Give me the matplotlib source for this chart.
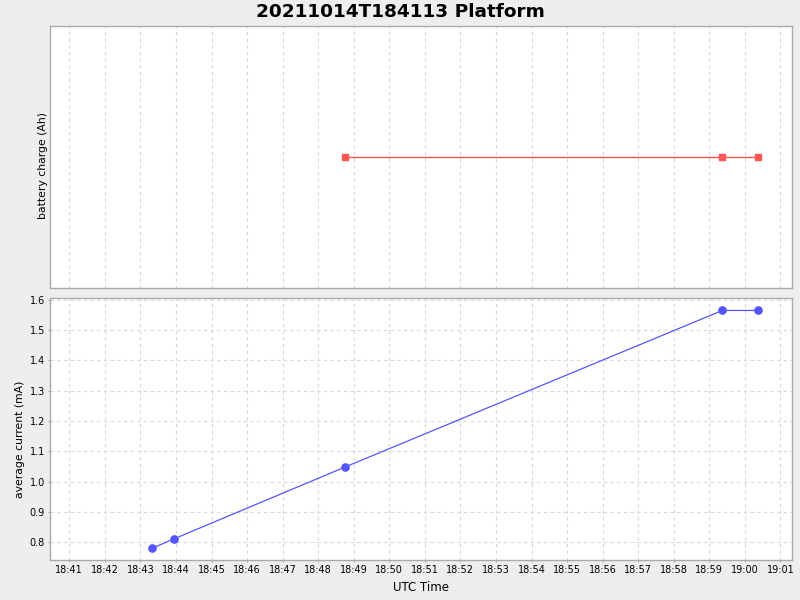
import matplotlib
matplotlib.use("Agg")
import matplotlib.pyplot as plt
import matplotlib.dates as mdates
from datetime import datetime

title = "20211014T184113 Platform"
charge_times = ["2021-10-14 18:48:45", "2021-10-14 18:59:22", "2021-10-14 19:00:22"]
charge_values = [1.0, 1.0, 1.0]
current_times = ["2021-10-14 18:43:19", "2021-10-14 18:43:56", "2021-10-14 18:48:45",
                 "2021-10-14 18:59:22", "2021-10-14 19:00:22"]
current_values = [0.780, 0.811, 1.048, 1.564, 1.564]
current_ticks = [0.8, 0.9, 1.0, 1.1, 1.2, 1.3, 1.4, 1.5, 1.6]

fmt = "%Y-%m-%d %H:%M:%S"
ct = [datetime.strptime(s, fmt) for s in charge_times]
it = [datetime.strptime(s, fmt) for s in current_times]
xmin = datetime.strptime("2021-10-14 18:40:28", fmt)
xmax = datetime.strptime("2021-10-14 19:01:20", fmt)

bg = "#EEEEEE"
fig = plt.figure(figsize=(8, 6), dpi=100, facecolor=bg)
W, H = 800, 600
ax1 = fig.add_axes([50.3 / W, 1 - 288.3 / H, (792.3 - 50.3) / W, (288.3 - 26.3) / H])
ax2 = fig.add_axes([50.3 / W, 1 - 560 / H, (792.3 - 50.3) / W, (560 - 298.3) / H], sharex=ax1)

grid_kw = dict(color="#D9D9D9", linestyle=(0, (3, 3)), linewidth=0.8)
for ax in (ax1, ax2):
    ax.set_facecolor("white")
    for s in ax.spines.values():
        s.set_color("#AAAAAA")
        s.set_linewidth(1.0)
    ax.xaxis.set_major_locator(mdates.MinuteLocator())
    ax.xaxis.set_major_formatter(mdates.DateFormatter("%H:%M"))
    ax.grid(True, axis="x", **grid_kw)
    ax.set_axisbelow(True)

ax1.plot(ct, charge_values, color="#FF5555", linewidth=1.0, marker="s", markersize=5,
         markerfacecolor="#FF5555", markeredgecolor="#FF5555", zorder=3)
ax1.set_yticks([])
ax1.set_ylim(0.5, 1.5)
ax1.set_ylabel("battery charge (Ah)", fontsize=7.8)
ax1.yaxis.set_label_coords(-0.0035, 0.4706)
ax1.tick_params(axis="x", which="both", bottom=False, labelbottom=False)

ax2.plot(it, current_values, color="#5555FF", linewidth=0.9, marker="o", markersize=5.2,
         markerfacecolor="#5555FF", markeredgecolor="#5555FF", zorder=3)
ax2.set_ylim(0.742, 1.604)
ax2.set_yticks(current_ticks)
ax2.set_yticklabels([f"{v:.1f}" for v in current_ticks])
ax2.grid(True, axis="y", **grid_kw)
ax2.set_ylabel("average current (mA)", fontsize=7.8)
ax2.yaxis.set_label_coords(-0.0346, 0.4616)
ax2.set_xlabel("UTC Time", fontsize=8.5, labelpad=4)
ax2.tick_params(axis="both", labelsize=7.0, length=1.5, color="#AAAAAA", pad=2.4)
ax2.set_xlim(xmin, xmax)

fig.suptitle(title, x=0.5, y=0.995, fontsize=13.3, fontweight="bold", va="top")

fig.savefig("out.png", dpi=100, facecolor=bg)
